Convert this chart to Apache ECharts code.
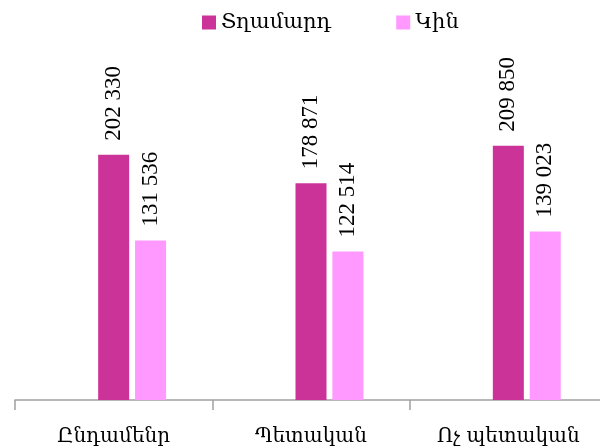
<!DOCTYPE html>
<html>
<head>
<meta charset="utf-8">
<script src="https://cdn.jsdelivr.net/npm/echarts@6/dist/echarts.min.js"></script>
<style>html,body{margin:0;padding:0;background:#fff}#c{width:600px;height:447px}</style>
</head>
<body>
<div id="c"></div>
<script>
var categories = ['Ընդամենր', 'Պետական', 'Ոչ պետական'];
var seriesNames = ['Տղամարդ', 'Կին'];
var menValues = [202330, 178871, 209850];
var womenValues = [131536, 122514, 139023];

function fmt(v) { return String(v).replace(/\B(?=(\d{3})+(?!\d))/g, ' '); }

var chart = echarts.init(document.getElementById('c'));
var labelStyle = {
  show: true, position: 'top', rotate: 90, distance: 14,
  align: 'left', verticalAlign: 'middle',
  fontFamily: 'Liberation Serif', fontSize: 23, color: '#000',
  formatter: function (p) { return fmt(p.value); }
};
chart.setOption({
  animation: false,
  legend: {
    data: seriesNames, left: 197, top: 7, icon: 'rect',
    itemWidth: 14, itemHeight: 14, itemGap: 65,
    textStyle: { fontFamily: 'DejaVu Serif', fontSize: 21, color: '#000' }
  },
  grid: { left: 15, top: 97, width: 592, bottom: 47, outerBoundsMode: 'none', containLabel: false },
  xAxis: {
    type: 'category', data: categories,
    axisLine: { show: true, lineStyle: { color: '#a0a0a0', width: 1.5 } },
    axisTick: { show: true, interval: 0, length: 10, lineStyle: { color: '#a0a0a0', width: 1.5 } },
    axisLabel: { margin: 27, interval: 0, fontFamily: 'DejaVu Serif', fontSize: 20, color: '#000' }
  },
  yAxis: { type: 'value', min: 0, max: 250000, show: false, splitLine: { show: false } },
  series: [
    { name: '_', type: 'bar', data: [null, null, null], barWidth: 31, barGap: '19%' },
    { name: seriesNames[0], type: 'bar', data: menValues, barWidth: 31, barGap: '19%',
      itemStyle: { color: '#CC3399' }, label: labelStyle },
    { name: seriesNames[1], type: 'bar', data: womenValues, barWidth: 31, barGap: '19%',
      itemStyle: { color: '#FF99FF' }, label: labelStyle }
  ]
});
</script>
</body>
</html>
